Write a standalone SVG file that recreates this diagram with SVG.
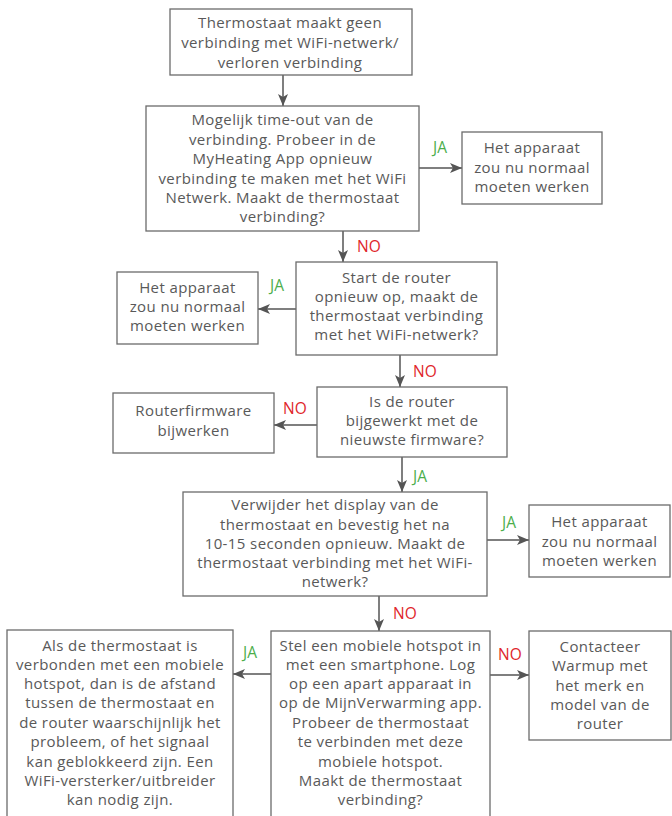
<svg xmlns="http://www.w3.org/2000/svg" width="672" height="816" viewBox="0 0 672 816">
<style>
.box{fill:#fff;stroke:#6b6b6b;stroke-width:1.3}
.t{font-family:"Open Sans","Noto Sans","Liberation Sans",sans-serif;font-size:15px;letter-spacing:0.4px;fill:#595959;text-anchor:middle}
.ja{font-family:"Open Sans","Noto Sans","Liberation Sans",sans-serif;font-size:15.5px;fill:#4cae4c}
.no{font-family:"Open Sans","Noto Sans","Liberation Sans",sans-serif;font-size:15.5px;fill:#e0262b}
.c{stroke:#555;stroke-width:1.5;fill:none;marker-end:url(#ah)}
</style>
<defs>
<marker id="ah" markerUnits="userSpaceOnUse" markerWidth="12" markerHeight="12" viewBox="0 0 12 10" refX="12" refY="5" orient="auto">
<path d="M0,0 L12,5 L0,10 L3,5 z" fill="#555"/>
</marker>
</defs>
<rect width="672" height="816" fill="#fff"/>
<g id="connectors">
<line class="c" x1="283" y1="75" x2="283" y2="106"/>
<line class="c" x1="419" y1="168" x2="462" y2="168"/>
<line class="c" x1="343" y1="231" x2="343" y2="262"/>
<line class="c" x1="296" y1="309" x2="258" y2="309"/>
<line class="c" x1="400" y1="355" x2="400" y2="387"/>
<line class="c" x1="317" y1="425" x2="274" y2="425"/>
<line class="c" x1="402" y1="457" x2="402" y2="492"/>
<line class="c" x1="487" y1="540" x2="529" y2="540"/>
<line class="c" x1="379" y1="596" x2="379" y2="631"/>
<line class="c" x1="490" y1="675" x2="529" y2="675"/>
<line class="c" x1="271" y1="674" x2="233" y2="674"/>
<text class="ja" x="433" y="153">JA</text>
<text class="no" x="357" y="252">NO</text>
<text class="ja" x="270" y="291">JA</text>
<text class="no" x="413" y="377">NO</text>
<text class="no" x="283" y="414">NO</text>
<text class="ja" x="413" y="482">JA</text>
<text class="ja" x="502" y="528">JA</text>
<text class="no" x="393" y="619">NO</text>
<text class="no" x="498" y="660">NO</text>
<text class="ja" x="243" y="658">JA</text>
</g>
<g id="n1">
<rect class="box" x="170" y="9" width="242" height="66"/>
<text class="t" x="290" y="28">Thermostaat maakt geen</text>
<text class="t" x="290" y="48">verbinding met WiFi-netwerk/</text>
<text class="t" x="290" y="68">verloren verbinding</text>
</g>
<g id="n2">
<rect class="box" x="146" y="106" width="273" height="125"/>
<text class="t" x="282.5" y="125">Mogelijk time-out van de</text>
<text class="t" x="282.5" y="144.5">verbinding. Probeer in de</text>
<text class="t" x="282.5" y="164">MyHeating App opnieuw</text>
<text class="t" x="282.5" y="183.5">verbinding te maken met het WiFi</text>
<text class="t" x="282.5" y="203">Netwerk. Maakt de thermostaat</text>
<text class="t" x="282.5" y="222">verbinding?</text>
</g>
<g id="n3">
<rect class="box" x="462" y="132" width="140" height="72"/>
<text class="t" x="532" y="153">Het apparaat</text>
<text class="t" x="532" y="173">zou nu normaal</text>
<text class="t" x="532" y="192">moeten werken</text>
</g>
<g id="n4">
<rect class="box" x="296" y="262" width="201" height="93"/>
<text class="t" x="396.5" y="283">Start de router</text>
<text class="t" x="396.5" y="302">opnieuw op, maakt de</text>
<text class="t" x="396.5" y="321">thermostaat verbinding</text>
<text class="t" x="396.5" y="340">met het WiFi-netwerk?</text>
</g>
<g id="n5">
<rect class="box" x="117" y="272" width="141" height="72"/>
<text class="t" x="187.5" y="293">Het apparaat</text>
<text class="t" x="187.5" y="312">zou nu normaal</text>
<text class="t" x="187.5" y="331">moeten werken</text>
</g>
<g id="n6">
<rect class="box" x="317" y="387" width="190" height="70"/>
<text class="t" x="412" y="407">Is de router</text>
<text class="t" x="412" y="426">bijgewerkt met de</text>
<text class="t" x="412" y="445">nieuwste firmware?</text>
</g>
<g id="n7">
<rect class="box" x="113" y="393" width="161" height="60"/>
<text class="t" x="193.5" y="416">Routerfirmware</text>
<text class="t" x="193.5" y="436">bijwerken</text>
</g>
<g id="n8">
<rect class="box" x="183" y="492" width="304" height="104"/>
<text class="t" x="335" y="510">Verwijder het display van de</text>
<text class="t" x="335" y="530">thermostaat en bevestig het na</text>
<text class="t" x="335" y="549">10-15 seconden opnieuw. Maakt de</text>
<text class="t" x="335" y="568">thermostaat verbinding met het WiFi-</text>
<text class="t" x="335" y="587">netwerk?</text>
</g>
<g id="n9">
<rect class="box" x="529" y="505" width="141" height="72"/>
<text class="t" x="599.5" y="527">Het apparaat</text>
<text class="t" x="599.5" y="547">zou nu normaal</text>
<text class="t" x="599.5" y="566">moeten werken</text>
</g>
<g id="n10">
<rect class="box" x="271" y="631" width="219" height="195"/>
<text class="t" x="380.5" y="651">Stel een mobiele hotspot in</text>
<text class="t" x="380.5" y="670">met een smartphone. Log</text>
<text class="t" x="380.5" y="689">op een apart apparaat in</text>
<text class="t" x="380.5" y="708">op de MijnVerwarming app.</text>
<text class="t" x="380.5" y="728">Probeer de thermostaat</text>
<text class="t" x="380.5" y="747">te verbinden met deze</text>
<text class="t" x="380.5" y="767">mobiele hotspot.</text>
<text class="t" x="380.5" y="786">Maakt de thermostaat</text>
<text class="t" x="380.5" y="805">verbinding?</text>
</g>
<g id="n11">
<rect class="box" x="529" y="631" width="142" height="109"/>
<text class="t" x="600" y="652">Contacteer</text>
<text class="t" x="600" y="671">Warmup met</text>
<text class="t" x="600" y="691">het merk en</text>
<text class="t" x="600" y="710">model van de</text>
<text class="t" x="600" y="729">router</text>
</g>
<g id="n12">
<rect class="box" x="7" y="630" width="226" height="196"/>
<text class="t" x="120" y="651">Als de thermostaat is</text>
<text class="t" x="120" y="670">verbonden met een mobiele</text>
<text class="t" x="120" y="689">hotspot, dan is de afstand</text>
<text class="t" x="120" y="708">tussen de thermostaat en</text>
<text class="t" x="120" y="728">de router waarschijnlijk het</text>
<text class="t" x="120" y="747">probleem, of het signaal</text>
<text class="t" x="120" y="767">kan geblokkeerd zijn. Een</text>
<text class="t" x="120" y="786">WiFi-versterker/uitbreider</text>
<text class="t" x="120" y="805">kan nodig zijn.</text>
</g>
</svg>
